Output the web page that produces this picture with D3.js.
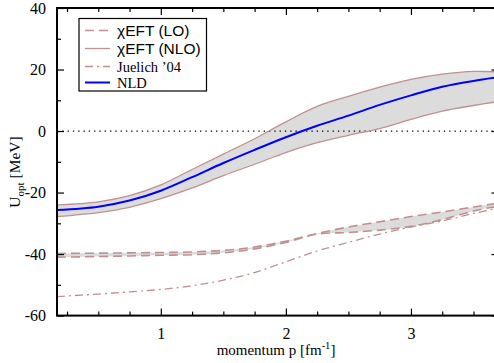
<!DOCTYPE html>
<html><head><meta charset="utf-8">
<script src="https://cdn.jsdelivr.net/npm/d3@7"></script>
<style>body{margin:0;background:#fff}svg{display:block}</style>
</head><body>
<svg id="c" width="494" height="363"></svg>
<script>
const momentum = [0.17,0.5,0.75,1.0,1.25,1.5,1.75,2.0,2.25,2.5,2.75,3.0,3.25,3.5,3.7];
const nld      = [-25.7,-24.6,-22.6,-19.4,-15.0,-10.4,-6.1,-2.0,1.7,5.0,8.5,11.6,14.4,16.3,17.5];
const nloUpper = [-24.0,-23.0,-21.0,-17.5,-12.5,-7.5,-2.5,3.0,8.0,11.3,14.3,16.8,18.5,19.4,19.2];
const nloLower = [-27.8,-26.5,-24.8,-22.0,-18.5,-14.5,-10.8,-7.0,-3.8,-1.4,0.8,3.8,6.5,8.3,9.6];
const loUpper  = [-39.8,-39.7,-39.6,-39.5,-39.3,-38.8,-37.7,-35.8,-33.3,-31.2,-29.5,-27.8,-26.3,-24.7,-23.4];
const loLower  = [-41.0,-40.8,-40.6,-40.4,-40.2,-39.6,-38.3,-36.2,-33.5,-33.0,-32.2,-31.0,-28.8,-26.0,-24.4];
const juelich  = [-53.8,-53.0,-52.3,-51.5,-50.3,-48.5,-46.0,-42.5,-39.0,-36.2,-33.5,-31.2,-29.2,-26.8,-25.0];
const xTicks = [1,2,3];
const yTicks = [-60,-40,-20,0,20,40];
const legendLabels = ["χEFT (LO)","χEFT (NLO)","Juelich ’04","NLD"];

const svg = d3.select("#c");
const L=57, R=498.5, T=8, B=315.6;
const x = d3.scaleLinear().domain([0.17,3.7]).range([L,R]);
const y = d3.scaleLinear().domain([-60,40]).range([B,T]);
const brown = "#c09090";
const serif = "'Liberation Serif','Times New Roman',serif";
const sans = "'Liberation Sans',Arial,sans-serif";
const curve = d3.curveCatmullRom.alpha(0.5);

svg.append("clipPath").attr("id","clip").append("rect")
  .attr("x",L).attr("y",T).attr("width",R-L).attr("height",B-T);
const g = svg.append("g").attr("clip-path","url(#clip)");

const idx = d3.range(momentum.length);
const area = (lo,hi)=>d3.area().curve(curve)
  .x(i=>x(momentum[i])).y0(i=>y(lo[i])).y1(i=>y(hi[i]));
const line = arr=>d3.line().curve(curve)
  .x(i=>x(momentum[i])).y(i=>y(arr[i]));

g.append("path").attr("d",area(nloLower,nloUpper)(idx)).attr("fill","#dcdcdc");
g.append("path").attr("d",area(loLower,loUpper)(idx)).attr("fill","#dcdcdc");

// zero line
g.append("line").attr("x1",L).attr("x2",R).attr("y1",y(0)).attr("y2",y(0))
  .attr("stroke","#000").attr("stroke-width",1.2).attr("stroke-dasharray","1.3,4");

[nloUpper,nloLower].forEach(a=>g.append("path").attr("d",line(a)(idx))
  .attr("fill","none").attr("stroke",brown).attr("stroke-width",1.3));
[loUpper,loLower].forEach(a=>g.append("path").attr("d",line(a)(idx))
  .attr("fill","none").attr("stroke",brown).attr("stroke-width",1.6).attr("stroke-dasharray","9,5"));
g.append("path").attr("d",line(juelich)(idx)).attr("fill","none").attr("stroke",brown)
  .attr("stroke-width",1.3).attr("stroke-dasharray","8,4,2,4");
g.append("path").attr("d",line(nld)(idx)).attr("fill","none").attr("stroke","#0000ff").attr("stroke-width",2);

// axes
const xMinor = d3.range(0.25,3.7,0.25).filter(v=>Math.abs(v-Math.round(v))>1e-6);
const yMinor = d3.range(-50,40,20);
const ax = svg.append("g");
ax.append("g").attr("transform",`translate(0,${B})`)
  .call(d3.axisBottom(x).tickValues(xTicks).tickSize(-7).tickPadding(12).tickFormat(d3.format("d")));
ax.append("g").attr("transform",`translate(0,${B})`)
  .call(d3.axisBottom(x).tickValues(xMinor).tickSize(-4).tickFormat(""));
ax.append("g").attr("transform",`translate(0,${T})`)
  .call(d3.axisTop(x).tickValues(xTicks).tickSize(-7).tickFormat(""));
ax.append("g").attr("transform",`translate(0,${T})`)
  .call(d3.axisTop(x).tickValues(xMinor).tickSize(-4).tickFormat(""));
ax.append("g").attr("transform",`translate(${L},0)`)
  .call(d3.axisLeft(y).tickValues(yTicks).tickSize(-7).tickPadding(11).tickFormat(d=>String(d)));
ax.append("g").attr("transform",`translate(${L},0)`)
  .call(d3.axisLeft(y).tickValues(yMinor).tickSize(-4).tickFormat(""));
ax.append("g").attr("transform",`translate(${R},0)`)
  .call(d3.axisRight(y).tickValues(yTicks).tickSize(-7).tickFormat(""));
ax.append("g").attr("transform",`translate(${R},0)`)
  .call(d3.axisRight(y).tickValues(yMinor).tickSize(-4).tickFormat(""));
ax.selectAll(".domain").remove();
ax.selectAll("line").attr("stroke","#000").attr("stroke-width",1.2);
ax.selectAll("text").attr("font-family",serif).attr("font-size",16).attr("fill","#000");
svg.append("rect").attr("x",L).attr("y",T).attr("width",R-L).attr("height",B-T)
  .attr("fill","none").attr("stroke","#000").attr("stroke-width",2);

// axis labels
const yl = svg.append("text").attr("transform","translate(20,172) rotate(-90)")
  .attr("text-anchor","middle").attr("font-family",serif).attr("font-size",15.5);
yl.append("tspan").text("U");
yl.append("tspan").attr("font-size",11).attr("dy",4).text("opt");
yl.append("tspan").attr("dy",-4).text(" [MeV]");
const xl = svg.append("text").attr("x",276).attr("y",355)
  .attr("text-anchor","middle").attr("font-family",serif).attr("font-size",15);
xl.append("tspan").text("momentum p [fm");
xl.append("tspan").attr("font-size",10.5).attr("dy",-6).text("-1");
xl.append("tspan").attr("dy",6).text("]");

// legend
svg.append("rect").attr("x",79).attr("y",18.5).attr("width",127.5).attr("height",72.5)
  .attr("fill","#fff").attr("stroke","#000").attr("stroke-width",1.2);
const rows=[30.5,48.5,66.5,82.5];
const styles=[{c:brown,d:"9,5",w:1.6},{c:brown,d:null,w:1.3},{c:brown,d:"8,4,2,4",w:1.3},{c:"#0000ff",d:null,w:2}];
const fonts=[sans,sans,serif,serif];
legendLabels.forEach((t,i)=>{
  svg.append("line").attr("x1",85).attr("x2",110).attr("y1",rows[i]).attr("y2",rows[i])
    .attr("stroke",styles[i].c).attr("stroke-width",styles[i].w).attr("stroke-dasharray",styles[i].d);
  svg.append("text").attr("x",117).attr("y",rows[i]+5).attr("font-family",fonts[i])
    .attr("font-size",fonts[i]===sans?15.5:14.5).text(t);
});
</script>
</body></html>
